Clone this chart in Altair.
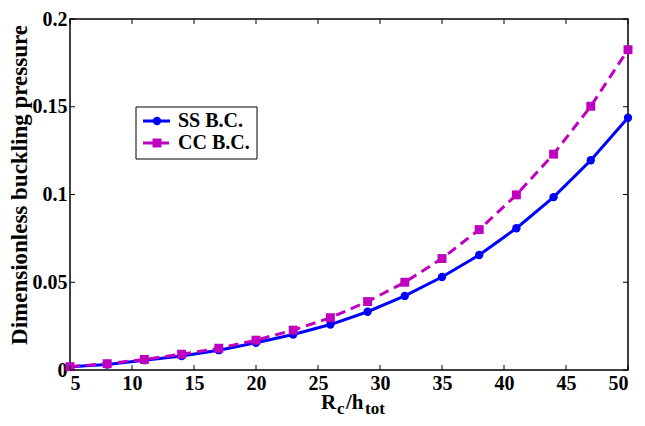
import altair as alt
import pandas as pd

# ---- data ----
x_vals = [5, 8, 11, 14, 17, 20, 23, 26, 29, 32, 35, 38, 41, 44, 47, 50]
ss_vals = [0.0019, 0.0031, 0.0056, 0.0080, 0.0113, 0.0155, 0.0202, 0.0259,
           0.0332, 0.0422, 0.0530, 0.0655, 0.0808, 0.0985, 0.1195, 0.1437]
cc_vals = [0.0019, 0.0036, 0.0060, 0.0090, 0.0124, 0.0170, 0.0227, 0.0298,
           0.0390, 0.0500, 0.0635, 0.0800, 0.0998, 0.1230, 0.1503, 0.1825]
series_names = ["SS B.C.", "CC B.C."]
x_ticks = [5, 10, 15, 20, 25, 30, 35, 40, 45, 50]
y_ticks = [0, 0.05, 0.1, 0.15, 0.2]

W, H = 558, 351
FONT = "Liberation Serif"
BLUE = "#0000FF"
MAG = "#BF00BF"

ss_df = pd.DataFrame({"x": x_vals, "y": ss_vals})
cc_df = pd.DataFrame({"x": x_vals, "y": cc_vals})
xt_df = pd.DataFrame({"t": x_ticks})
yt_df = pd.DataFrame({"t": y_ticks})
one = pd.DataFrame({"a": [0]})

xscale = alt.Scale(domain=[5, 50], nice=False, zero=False)
yscale = alt.Scale(domain=[0, 0.2], nice=False, zero=False)

xaxis = alt.Axis(values=x_ticks, format="~g", tickSize=0, domain=False, grid=False,
                 labelFont=FONT, labelFontWeight="bold", labelFontSize=20,
                 labelColor="black", labelPadding=3, title=None)
yaxis = alt.Axis(values=y_ticks, format="~g", tickSize=0, domain=False, grid=False,
                 labelFont=FONT, labelFontWeight="bold", labelFontSize=20,
                 labelColor="black", labelPadding=3,
                 title="Dimensionless buckling pressure", titleFont=FONT,
                 titleFontWeight="bold", titleFontSize=23, titleColor="black",
                 titleAngle=270, titleBaseline="bottom",
                 titleX=-39, titleY=H / 2 - 10)

ss_line = alt.Chart(ss_df).mark_line(color=BLUE, strokeWidth=3).encode(
    x=alt.X("x:Q", scale=xscale, axis=xaxis),
    y=alt.Y("y:Q", scale=yscale, axis=yaxis),
)
ss_pts = alt.Chart(ss_df).mark_point(shape="circle", filled=True, color=BLUE,
                                     size=70, opacity=1).encode(
    x=alt.X("x:Q", scale=xscale), y=alt.Y("y:Q", scale=yscale))
cc_line = alt.Chart(cc_df).mark_line(color=MAG, strokeWidth=3,
                                     strokeDash=[10, 6]).encode(
    x=alt.X("x:Q", scale=xscale), y=alt.Y("y:Q", scale=yscale))
cc_pts = alt.Chart(cc_df).mark_point(shape="square", filled=True, color=MAG,
                                     size=80, opacity=1).encode(
    x=alt.X("x:Q", scale=xscale), y=alt.Y("y:Q", scale=yscale))

# inward ticks
tk = dict(color="black", strokeWidth=1)
xb = alt.Chart(xt_df).mark_rule(**tk).encode(
    x=alt.X("t:Q", scale=xscale), y=alt.value(H), y2=alt.value(H - 5))
xt = alt.Chart(xt_df).mark_rule(**tk).encode(
    x=alt.X("t:Q", scale=xscale), y=alt.value(0), y2=alt.value(5))
yl = alt.Chart(yt_df).mark_rule(**tk).encode(
    y=alt.Y("t:Q", scale=yscale), x=alt.value(0), x2=alt.value(5))
yr = alt.Chart(yt_df).mark_rule(**tk).encode(
    y=alt.Y("t:Q", scale=yscale), x=alt.value(W), x2=alt.value(W - 5))

# legend
LX0, LX1, LY0, LY1 = 66, 187, 88, 140
leg_box = alt.Chart(one).mark_rect(fill="white", stroke="black",
                                   strokeWidth=1).encode(
    x=alt.value(LX0), x2=alt.value(LX1), y=alt.value(LY0), y2=alt.value(LY1))
r1, r2 = 102, 124
leg_l1 = alt.Chart(one).mark_rule(color=BLUE, strokeWidth=3).encode(
    x=alt.value(73), x2=alt.value(100), y=alt.value(r1))
leg_p1 = alt.Chart(one).mark_point(shape="circle", filled=True, color=BLUE,
                                   size=70, opacity=1).encode(
    x=alt.value(87), y=alt.value(r1))
leg_l2 = alt.Chart(one).mark_rule(color=MAG, strokeWidth=3,
                                  strokeDash=[10, 6]).encode(
    x=alt.value(73), x2=alt.value(100), y=alt.value(r2))
leg_p2 = alt.Chart(one).mark_point(shape="square", filled=True, color=MAG,
                                   size=80, opacity=1).encode(
    x=alt.value(87), y=alt.value(r2))
tstyle = dict(font=FONT, fontWeight="bold", fontSize=20, color="black",
              align="left", baseline="middle")
leg_t1 = alt.Chart(one).mark_text(text=series_names[0], **tstyle).encode(
    x=alt.value(108), y=alt.value(r1))
leg_t2 = alt.Chart(one).mark_text(text=series_names[1], **tstyle).encode(
    x=alt.value(108), y=alt.value(r2))

# x title with subscripts
xs = dict(font=FONT, fontWeight="bold", color="black", align="left",
          baseline="alphabetic")
xt_R = alt.Chart(one).mark_text(text="R", fontSize=21, **xs).encode(
    x=alt.value(251), y=alt.value(H + 39))
xt_c = alt.Chart(one).mark_text(text="c", fontSize=17, **xs).encode(
    x=alt.value(267), y=alt.value(H + 44))
xt_h = alt.Chart(one).mark_text(text="/h", fontSize=21, **xs).encode(
    x=alt.value(276), y=alt.value(H + 39))
xt_tot = alt.Chart(one).mark_text(text="tot", fontSize=17, **xs).encode(
    x=alt.value(295), y=alt.value(H + 44))

chart = alt.layer(
    ss_line, ss_pts, cc_line, cc_pts, xb, xt, yl, yr,
    leg_box, leg_l1, leg_p1, leg_l2, leg_p2, leg_t1, leg_t2,
    xt_R, xt_c, xt_h, xt_tot,
).properties(
    width=W, height=H,
    autosize=alt.AutoSizeParams(type="none"),
    padding={"left": 62, "top": 11, "right": 9, "bottom": 48},
).configure_view(stroke="black", strokeWidth=1.5)

chart.save("out.html", embed_options={"renderer": "svg", "actions": False})
